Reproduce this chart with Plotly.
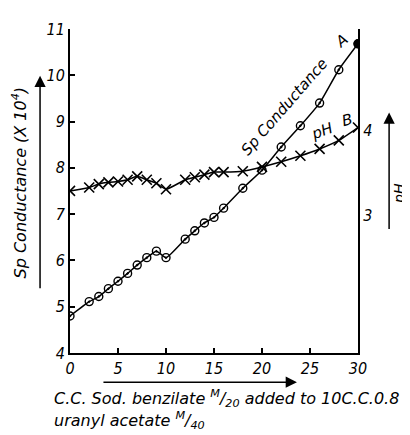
import plotly.graph_objects as go

# Data
cond_x = [0, 2, 3, 4, 5, 6, 7, 8, 9, 10, 12, 13, 14, 15, 16, 18, 20, 22, 24, 26, 28, 30]
cond_y = [4.80, 5.11, 5.22, 5.39, 5.55, 5.72, 5.90, 6.06, 6.20, 6.06, 6.46, 6.64,
          6.81, 6.93, 7.13, 7.56, 7.95, 8.45, 8.91, 9.40, 10.12, 10.68]
ph_x = [0, 2, 3, 4, 5, 6, 7, 8, 9, 10, 12, 13, 14, 15, 16, 18, 20, 22, 24, 26, 28, 30]
ph_y = [3.29, 3.33, 3.37, 3.39, 3.40, 3.42, 3.46, 3.42, 3.38, 3.31, 3.42, 3.45,
        3.48, 3.51, 3.51, 3.52, 3.57, 3.63, 3.70, 3.78, 3.88, 4.03]
x_ticks = [0, 5, 10, 15, 20, 25, 30]
y_ticks = [4, 5, 6, 7, 8, 9, 10, 11]
ph_ticks = [3, 4]

FONT_C = "DejaVu Sans Condensed, Liberation Sans Narrow, DejaVu Sans, sans-serif"
FONT_W = "DejaVu Sans, sans-serif"

fig = go.Figure()
fig.add_trace(go.Scatter(
    x=cond_x, y=cond_y, mode="lines+markers",
    line=dict(color="black", width=1.5, shape="spline", smoothing=0.5),
    marker=dict(symbol="circle-open-dot", size=8, color="black", line=dict(width=1.4)),
    showlegend=False))
fig.add_trace(go.Scatter(
    x=[cond_x[-1]], y=[cond_y[-1]], mode="markers",
    marker=dict(symbol="circle", size=9, color="black"), showlegend=False))
fig.add_trace(go.Scatter(
    x=ph_x, y=ph_y, mode="lines+markers", yaxis="y2",
    line=dict(color="black", width=1.5, shape="spline", smoothing=0.5),
    marker=dict(symbol="x-thin-open", size=10, color="black", line=dict(width=1.6, color="black")),
    showlegend=False))

tickfont = dict(family=FONT_C, size=16, color="black", style="italic")

fig.update_layout(
    width=410, height=435,
    margin=dict(l=62, r=60, t=12, b=90),
    paper_bgcolor="white", plot_bgcolor="white",
    font=dict(family=FONT_C, color="black", style="italic"),
    xaxis=dict(range=[0, 30], tickvals=x_ticks, ticks="inside", ticklen=5, tickwidth=1.5,
               tickcolor="black", showline=True, linecolor="black", linewidth=2,
               showgrid=False, zeroline=False, tickfont=tickfont),
    yaxis=dict(range=[4, 11], tickvals=y_ticks, ticks="inside", ticklen=5, tickwidth=1.5,
               tickcolor="black", showline=True, linecolor="black", linewidth=2,
               showgrid=False, zeroline=False, tickfont=tickfont),
    yaxis2=dict(range=[1.398, 5.18], tickvals=ph_ticks, overlaying="y", side="right",
                anchor="x", ticks="", showline=True, linecolor="black", linewidth=2,
                showgrid=False, zeroline=False, tickfont=tickfont),
)

wfont = dict(family=FONT_W, size=15, color="black", style="italic")
xfont = dict(family=FONT_W, size=16, color="black", style="italic")
tfont = dict(family=FONT_W, size=16, color="black", style="italic")
pfont = dict(family=FONT_W, size=14, color="black", style="italic")
C = dict(xanchor="center", yanchor="middle", showarrow=False)
arrow = dict(showarrow=True, arrowhead=2, arrowsize=1.5, arrowwidth=1.5, arrowcolor="black", text="")
annotations = [
    # left axis title + arrow
    dict(xref="paper", yref="paper", x=-0.174, y=0.526, text="Sp Conductance (X 10<sup>4</sup>)",
         textangle=-90, font=tfont, **C),
    dict(xref="paper", yref="paper", x=-0.104, y=0.856, ax=0, ay=214, **arrow),
    # right axis title + arrow
    dict(xref="paper", yref="paper", x=1.140, y=0.492, text="pH",
         textangle=-90, font=pfont, **C),
    dict(xref="paper", yref="paper", x=1.108, y=0.742, ax=0, ay=118, **arrow),
    # x-axis title + arrow
    dict(xref="paper", yref="paper", x=0.788, y=-0.090, ax=-195, ay=0, **arrow),
    dict(xref="paper", yref="paper", x=-0.0625, y=-0.141, xanchor="left", yanchor="middle",
         text="C.C. Sod. benzilate <sup>M</sup>/<sub>20</sub> added to 10C.C.0.8",
         showarrow=False, font=xfont),
    dict(xref="paper", yref="paper", x=-0.0625, y=-0.207, xanchor="left", yanchor="middle",
         text="uranyl acetate <sup>M</sup>/<sub>40</sub>",
         showarrow=False, font=xfont),
    # curve labels
    dict(x=22.3, y=9.32, text="Sp Conductance", textangle=-49, font=wfont, **C),
    dict(x=28.3, y=10.74, text="A", textangle=-40, font=wfont, **C),
    dict(x=26.25, y=8.79, text="pH", textangle=-20, font=wfont, **C),
    dict(x=28.9, y=9.04, text="B", textangle=-15, font=wfont, **C),
]
fig.update_layout(annotations=annotations)

fig.write_html("out.html")
